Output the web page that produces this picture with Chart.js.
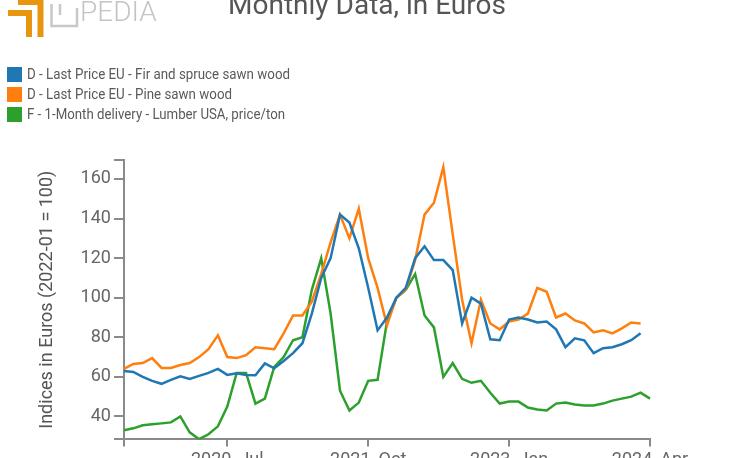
<!DOCTYPE html>
<html>
<head>
<meta charset="utf-8">
<script src="https://cdn.jsdelivr.net/npm/chart.js@4.4.1/dist/chart.umd.min.js"></script>
<style>
  html, body { margin: 0; padding: 0; background: #fff; overflow: hidden; }
  #wrap { position: absolute; left: 0; top: -20px; width: 734px; height: 500px; }
</style>
</head>
<body>
<div id="wrap"><canvas id="myChart"></canvas></div>
<script>
const months = [
  '2019, Aug', '2019, Sep', '2019, Oct', '2019, Nov', '2019, Dec',
  '2020, Jan', '2020, Feb', '2020, Mar', '2020, Apr', '2020, May', '2020, Jun',
  '2020, Jul', '2020, Aug', '2020, Sep', '2020, Oct', '2020, Nov', '2020, Dec',
  '2021, Jan', '2021, Feb', '2021, Mar', '2021, Apr', '2021, May', '2021, Jun',
  '2021, Jul', '2021, Aug', '2021, Sep', '2021, Oct', '2021, Nov', '2021, Dec',
  '2022, Jan', '2022, Feb', '2022, Mar', '2022, Apr', '2022, May', '2022, Jun',
  '2022, Jul', '2022, Aug', '2022, Sep', '2022, Oct', '2022, Nov', '2022, Dec',
  '2023, Jan', '2023, Feb', '2023, Mar', '2023, Apr', '2023, May', '2023, Jun',
  '2023, Jul', '2023, Aug', '2023, Sep', '2023, Oct', '2023, Nov', '2023, Dec',
  '2024, Jan', '2024, Feb', '2024, Mar', '2024, Apr'
];

// D - Last Price EU - Fir and spruce sawn wood
const firSpruce = [
  63, 62.5, 60, 58, 56.5, 58.5, 60.3, 59, 60.5, 62, 64,
  61, 61.8, 61, 60.8, 66.8, 64.3, 68, 72, 77, 92, 110,
  120, 142, 138, 125, 105, 83.5, 90, 100, 105, 120, 126,
  119, 119, 114, 87, 100, 97, 79, 78.5, 89, 90, 89,
  87.5, 88, 84, 75, 79.5, 78.5, 72, 74.5, 75, 76.5, 78.5, 82
];

// D - Last Price EU - Pine sawn wood
const pine = [
  64, 66.5, 67, 69.5, 64.5, 64.5, 66, 67, 70, 74, 81,
  70, 69.5, 71, 75, 74.5, 74, 82, 91, 91, 98, 112,
  128, 142, 130, 145, 120, 105, 86, 100, 104, 119, 142,
  148, 166, 132, 99, 77, 99, 87, 84, 88, 89, 92,
  105, 103, 90, 92, 88.5, 87, 82.5, 83.5, 82, 84.5, 87.5, 87
];

// F - 1-Month delivery - Lumber USA, price/ton
const lumberUsa = [
  33, 34, 35.5, 36, 36.5, 37, 40, 32, 28.5, 31, 35,
  45, 62, 62, 46.5, 49, 65, 70, 78.5, 80, 104, 120,
  92, 53, 43, 47, 58, 58.5, 88, 100, 104, 112, 91,
  85, 60, 67, 59, 57, 58, 52, 46.5, 47.5, 47.5, 44.5,
  43.5, 43, 46.5, 47, 46, 45.5, 45.5, 46.5, 48, 49, 50, 52, 49
];

const seriesNames = [
  'D - Last Price EU - Fir and spruce sawn wood',
  'D - Last Price EU - Pine sawn wood',
  'F - 1-Month delivery - Lumber USA, price/ton'
];
const seriesColors = ['#1f77b4', '#ff7f0e', '#2ca02c'];

const xTickIndex = [0, 11, 26, 41, 56];
const yTickValues = [40, 60, 80, 100, 120, 140, 160];
const yMin = 28.4, yMax = 169.6;

const axisColor = '#8a8a8a';

// legend rows and logo drawn on the canvas
const decor = {
  id: 'decor',
  afterDraw(chart) {
    const ctx = chart.ctx;
    const legendWidths = [263, 205, 258];
    ctx.save();
    chart.data.datasets.forEach((ds, i) => {
      const y = 87 + i * 20;
      ctx.fillStyle = ds.borderColor;
      ctx.fillRect(7, y, 15, 15);
      ctx.fillStyle = '#5a5a5a';
      ctx.font = '15px Roboto';
      ctx.textBaseline = 'middle';
      ctx.fillText(ds.label, 27, y + 8, legendWidths[i]);
    });

    // logo
    ctx.strokeStyle = '#e8950f';
    ctx.lineWidth = 6;
    ctx.lineCap = 'butt';
    ctx.beginPath();
    ctx.moveTo(18, 22); ctx.lineTo(40.5, 22); ctx.lineTo(40.5, 57);
    ctx.moveTo(8, 33); ctx.lineTo(29, 33); ctx.lineTo(29, 57);
    ctx.stroke();
    ctx.strokeStyle = '#c8c8c8';
    ctx.lineWidth = 2.5;
    ctx.beginPath();
    ctx.moveTo(51.5, 24); ctx.lineTo(51.5, 46); ctx.lineTo(77, 46); ctx.lineTo(77, 28);
    ctx.moveTo(60, 24); ctx.lineTo(60, 35);
    ctx.stroke();
    ctx.fillStyle = '#c4c4c4';
    ctx.font = '300 28px Roboto';
    ctx.textBaseline = 'alphabetic';
    ctx.fillText('PEDIA', 80, 41);
    ctx.restore();
  }
};

const ctx = document.getElementById('myChart');

new Chart(ctx, {
  type: 'line',
  data: {
    labels: months,
    datasets: [
      { label: seriesNames[0], data: firSpruce, borderColor: seriesColors[0] },
      { label: seriesNames[1], data: pine, borderColor: seriesColors[1] },
      { label: seriesNames[2], data: lumberUsa, borderColor: seriesColors[2] }
    ]
  },
  options: {
    responsive: true,
    maintainAspectRatio: false,
    animation: false,
    elements: {
      line: { borderWidth: 2.5, tension: 0, fill: false },
      point: { radius: 0 }
    },
    layout: { padding: { left: 0, right: 0, top: 0, bottom: 6 } },
    plugins: {
      legend: { display: false },
      tooltip: { enabled: false },
      title: {
        display: true,
        text: 'Monthly Data, in Euros',
        color: '#555',
        font: { family: 'Roboto', size: 28, weight: 'normal' },
        padding: { top: 10.5, bottom: 135.9 }
      }
    },
    scales: {
      x: {
        type: 'category',
        offset: false,
        afterBuildTicks: s => { s.ticks = xTickIndex.map(v => ({ value: v })); },
        ticks: {
          autoSkip: false,
          maxRotation: 0,
          padding: 3,
          color: '#666',
          font: { family: 'Roboto', size: 18 },
          callback: function (v) { return v === 0 ? '' : this.getLabelForValue(v); }
        },
        grid: { drawOnChartArea: false, drawTicks: true, tickLength: 7, color: axisColor, lineWidth: 2 },
        border: { display: true, color: axisColor, width: 2 }
      },
      y: {
        min: yMin,
        max: yMax,
        afterBuildTicks: s => {
          s.ticks = [s.min, ...yTickValues, s.max].map(v => ({ value: v }));
        },
        ticks: {
          padding: 3,
          color: '#666',
          font: { family: 'Roboto', size: 18 },
          callback: v => (yTickValues.includes(v) ? v : '')
        },
        title: {
          display: true,
          text: 'Indices in Euros (2022-01 = 100)',
          color: '#555',
          font: { family: 'Roboto', size: 18 },
          padding: { top: 37, bottom: 19 }
        },
        grid: { drawOnChartArea: false, drawTicks: true, tickLength: 10, color: axisColor, lineWidth: 2 },
        border: { display: true, color: axisColor, width: 2 }
      },
      // empty right-hand spacer so the title stays centred on the whole page
      spacer: {
        type: 'linear',
        position: 'right',
        display: true,
        grid: { display: false },
        border: { display: false },
        ticks: { display: false },
        afterFit: s => { s.width = 84; }
      }
    }
  },
  plugins: [decor]
});
</script>
</body>
</html>
